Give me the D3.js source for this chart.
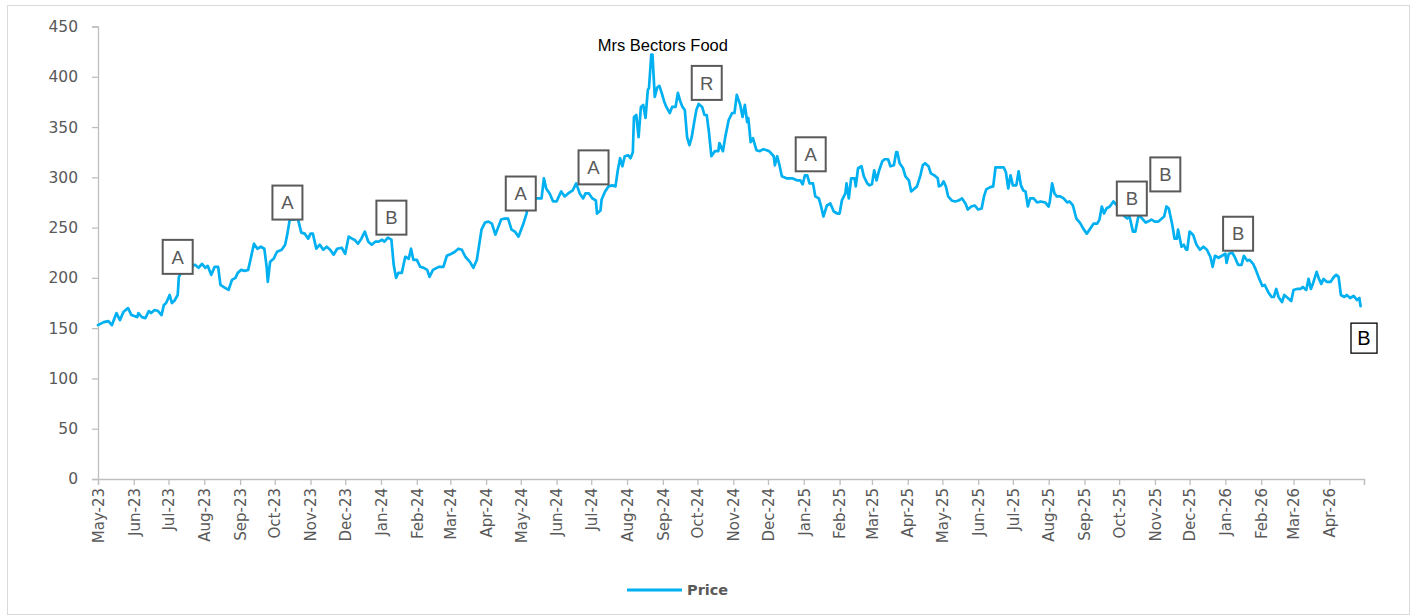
<!DOCTYPE html>
<html>
<head>
<meta charset="utf-8">
<script src="https://cdn.jsdelivr.net/npm/d3@7"></script>
<style>
  html, body { margin: 0; padding: 0; background: #ffffff; }
  svg { display: block; }
</style>
</head>
<body>
<svg id="chart" width="1413" height="615"></svg>
<script>
// ---------------- DATA ----------------
const title = "Mrs Bectors Food";
const seriesName = "Price";

const dates = [
"2023-05-01","2023-05-06","2023-05-10","2023-05-13","2023-05-17","2023-05-20","2023-05-23","2023-05-27","2023-05-30",
"2023-06-04","2023-06-05","2023-06-08","2023-06-11","2023-06-14","2023-06-16","2023-06-19","2023-06-22","2023-06-25","2023-06-27","2023-06-29",
"2023-07-02","2023-07-04","2023-07-06","2023-07-09","2023-07-10","2023-07-12","2023-07-18","2023-07-24","2023-07-27","2023-07-30",
"2023-08-02","2023-08-04","2023-08-07","2023-08-10","2023-08-13","2023-08-15","2023-08-19","2023-08-22","2023-08-25","2023-08-28","2023-08-30",
"2023-09-02","2023-09-05","2023-09-08","2023-09-10","2023-09-13","2023-09-16","2023-09-19","2023-09-22","2023-09-24","2023-09-25","2023-09-27","2023-09-30",
"2023-10-03","2023-10-07","2023-10-10","2023-10-12","2023-10-14","2023-10-18","2023-10-21","2023-10-24","2023-10-27","2023-10-30",
"2023-11-01","2023-11-03","2023-11-06","2023-11-09","2023-11-12","2023-11-15","2023-11-18","2023-11-21","2023-11-24","2023-11-28",
"2023-12-01","2023-12-04","2023-12-07","2023-12-09","2023-12-12","2023-12-15","2023-12-18","2023-12-21","2023-12-24","2023-12-27","2023-12-30",
"2024-01-02","2024-01-04","2024-01-07","2024-01-10","2024-01-12","2024-01-14","2024-01-16","2024-01-19","2024-01-22","2024-01-25","2024-01-27","2024-01-29",
"2024-02-01","2024-02-04","2024-02-07","2024-02-10","2024-02-12","2024-02-15","2024-02-20","2024-02-24","2024-02-27",
"2024-03-02","2024-03-05","2024-03-08","2024-03-11","2024-03-14","2024-03-18","2024-03-21","2024-03-24","2024-03-26","2024-03-28","2024-03-31",
"2024-04-03","2024-04-06","2024-04-09","2024-04-11","2024-04-14","2024-04-17","2024-04-20","2024-04-23","2024-04-26","2024-04-29",
"2024-05-03","2024-05-06","2024-05-08","2024-05-15","2024-05-19","2024-05-21","2024-05-23","2024-05-26","2024-05-29",
"2024-06-01","2024-06-05","2024-06-08","2024-06-11","2024-06-15","2024-06-18","2024-06-21","2024-06-24","2024-06-26","2024-06-29",
"2024-07-02","2024-07-05","2024-07-06","2024-07-09","2024-07-10","2024-07-13","2024-07-16","2024-07-19","2024-07-22","2024-07-24","2024-07-26","2024-07-28","2024-07-30",
"2024-08-02","2024-08-04","2024-08-06","2024-08-07","2024-08-09","2024-08-11","2024-08-13","2024-08-15","2024-08-17","2024-08-19","2024-08-20","2024-08-22","2024-08-23","2024-08-25","2024-08-27","2024-08-29","2024-08-31",
"2024-09-02","2024-09-04","2024-09-07","2024-09-09","2024-09-12","2024-09-14","2024-09-16","2024-09-18","2024-09-20","2024-09-22","2024-09-24","2024-09-26","2024-09-28","2024-09-30",
"2024-10-02","2024-10-05","2024-10-07","2024-10-09","2024-10-11","2024-10-13","2024-10-16","2024-10-19","2024-10-20","2024-10-23","2024-10-25","2024-10-28","2024-10-31",
"2024-11-02","2024-11-04","2024-11-07","2024-11-09","2024-11-11","2024-11-13","2024-11-14","2024-11-16","2024-11-18","2024-11-21","2024-11-24","2024-11-27","2024-11-30",
"2024-12-02","2024-12-06","2024-12-07","2024-12-09","2024-12-11","2024-12-13","2024-12-17","2024-12-22","2024-12-26","2024-12-29","2024-12-31",
"2025-01-02","2025-01-04","2025-01-06","2025-01-09","2025-01-11","2025-01-14","2025-01-16","2025-01-18","2025-01-21","2025-01-24","2025-01-27","2025-01-30",
"2025-02-01","2025-02-03","2025-02-06","2025-02-07","2025-02-09","2025-02-11","2025-02-14","2025-02-15","2025-02-17","2025-02-20","2025-02-22","2025-02-25","2025-02-27",
"2025-03-01","2025-03-03","2025-03-05","2025-03-07","2025-03-10","2025-03-12","2025-03-15","2025-03-17","2025-03-20","2025-03-22","2025-03-23","2025-03-25","2025-03-28","2025-03-30",
"2025-04-02","2025-04-04","2025-04-06","2025-04-09","2025-04-12","2025-04-14","2025-04-16","2025-04-19","2025-04-21","2025-04-24","2025-04-27","2025-04-28","2025-04-30",
"2025-05-02","2025-05-04","2025-05-06","2025-05-09","2025-05-12","2025-05-15","2025-05-18","2025-05-21","2025-05-23","2025-05-26","2025-05-29",
"2025-06-01","2025-06-04","2025-06-06","2025-06-08","2025-06-11","2025-06-14","2025-06-16","2025-06-20","2025-06-23","2025-06-25","2025-06-27","2025-06-29",
"2025-07-01","2025-07-04","2025-07-06","2025-07-08","2025-07-10","2025-07-12","2025-07-14","2025-07-16","2025-07-19","2025-07-22","2025-07-25","2025-07-29",
"2025-08-01","2025-08-02","2025-08-04","2025-08-06","2025-08-08","2025-08-11","2025-08-14","2025-08-17","2025-08-19","2025-08-22","2025-08-25","2025-08-28","2025-08-31",
"2025-09-03","2025-09-06","2025-09-09","2025-09-12","2025-09-14","2025-09-16","2025-09-18","2025-09-20","2025-09-23","2025-09-26","2025-09-29",
"2025-10-03","2025-10-08","2025-10-10","2025-10-13","2025-10-15","2025-10-18","2025-10-21","2025-10-24","2025-10-26","2025-10-29",
"2025-11-01","2025-11-04","2025-11-07","2025-11-09","2025-11-11","2025-11-13","2025-11-16","2025-11-18","2025-11-20","2025-11-21","2025-11-24","2025-11-26","2025-11-28","2025-11-29",
"2025-12-01","2025-12-04","2025-12-07","2025-12-10","2025-12-13","2025-12-16","2025-12-19","2025-12-21","2025-12-23","2025-12-26","2025-12-29",
"2026-01-01","2026-01-02","2026-01-04","2026-01-07","2026-01-09","2026-01-12","2026-01-15","2026-01-17","2026-01-20","2026-01-22","2026-01-25","2026-01-27","2026-01-30",
"2026-02-02","2026-02-04","2026-02-07","2026-02-10","2026-02-12","2026-02-14","2026-02-16","2026-02-19","2026-02-21","2026-02-24","2026-02-27",
"2026-03-01","2026-03-04","2026-03-07","2026-03-09","2026-03-12","2026-03-14","2026-03-16","2026-03-18","2026-03-21","2026-03-23","2026-03-25","2026-03-27","2026-03-30",
"2026-04-02","2026-04-05","2026-04-07","2026-04-09","2026-04-11","2026-04-14","2026-04-16","2026-04-19","2026-04-22","2026-04-25","2026-04-27","2026-04-28"
];

const prices = [
153,156,157,153,165,158,166,170,163,
161,165,161,160,167,165,168,167,163,173,175,
183,175,177,183,201,205,210,213,210,214,
210,212,203,211,211,193,190,188,198,200,205,
208,207,208,218,234,229,231,229,211,196,216,219,
226,228,233,244,258,258,259,245,244,239,
244,244,229,233,228,231,228,223,229,230,
224,241,239,238,234,239,246,236,233,236,236,
238,236,240,238,213,200,205,205,221,219,229,218,
218,211,210,208,201,208,211,211,222,
224,226,229,228,221,216,210,218,233,248,255,
256,254,243,249,258,259,259,248,246,241,
253,264,279,279,279,299,289,284,276,
276,286,281,284,287,294,284,279,284,284,
279,277,264,267,278,286,291,292,291,307,319,311,321,
322,319,325,360,362,340,370,372,359,387,389,422,422,380,389,391,384,
376,370,364,370,370,384,376,370,367,340,332,340,354,367,
373,370,362,362,344,321,326,326,334,326,340,357,364,
364,382,372,360,372,355,359,335,339,327,326,328,327,
326,321,312,321,312,301,299,299,297,297,293,
302,302,294,294,281,279,271,261,272,274,266,264,
264,277,284,294,279,299,299,291,309,311,301,294,292,
293,307,297,306,316,318,318,311,312,325,325,314,309,301,
297,286,288,291,302,312,314,311,304,302,299,291,292,
296,291,281,277,276,277,279,274,268,271,272,
268,269,281,288,290,291,310,310,310,305,289,302,
292,292,306,292,287,286,271,279,279,275,276,275,
271,276,294,284,281,281,279,275,276,272,259,255,249,
244,249,254,254,258,271,264,269,271,276,272,
264,259,261,246,246,263,259,255,256,258,
256,256,259,261,271,269,253,239,239,248,231,233,228,228,
246,243,233,228,231,228,221,211,222,220,222,
224,215,224,225,221,213,213,222,217,218,214,209,200,
192,193,186,181,181,189,181,176,183,180,177,
188,189,189,191,188,199,189,195,206,199,194,199,196,
196,201,203,201,183,181,183,180,182,178,180,172
];

const yTicks = [0, 50, 100, 150, 200, 250, 300, 350, 400, 450];
const xDomain = ["2023-05-01", "2026-05-01"];

// Annotation callouts: label, date, price level at the box edge
const annLabels = ["A", "A", "B", "A", "A", "R", "A", "B", "B", "B"];
const annDates  = ["2023-07-09","2023-10-12","2024-01-10","2024-05-01","2024-07-03","2024-10-09","2025-01-07","2025-10-12","2025-11-10","2026-01-12"];
const annValues = [204, 258, 243, 267, 293, 377, 306, 262, 286, 227];

// Final rating (box below the line end)
const finalLabel = "B";
const finalDate = "2026-05-01";
const finalValue = 155;

// title anchor (date at which the title is centred)
const titleDate = "2024-09-01";

// ---------------- CHART ----------------
const parse = d3.timeParse("%Y-%m-%d");
const data = dates.map((d, i) => ({ date: parse(d), value: prices[i] }));

const svg = d3.select("#chart");
const plot = { left: 98, right: 1364, top: 26.5, bottom: 479 };

const axisColor = "#bfbfbf";
const textColor = "#595959";
const lineColor = "#00b0f0";
const fontFamily = "'DejaVu Sans', 'Liberation Sans', Arial, sans-serif";

// outer border
svg.append("rect")
  .attr("x", 7.5).attr("y", 5.5)
  .attr("width", 1402).attr("height", 609)
  .attr("fill", "#ffffff")
  .attr("stroke", "#d9d9d9").attr("stroke-width", 1);

const x = d3.scaleTime()
  .domain(xDomain.map(parse))
  .range([plot.left, plot.right]);

const y = d3.scaleLinear()
  .domain([0, 450])
  .range([plot.bottom, plot.top]);

// Y axis
const yAxis = d3.axisLeft(y).tickValues(yTicks).tickSize(6).tickPadding(14);
const gy = svg.append("g")
  .attr("transform", `translate(${plot.left},0)`)
  .call(yAxis);
gy.select(".domain").attr("stroke", axisColor).attr("stroke-width", 1.3);
gy.selectAll(".tick line").attr("stroke", axisColor).attr("stroke-width", 1.3);
gy.selectAll(".tick text")
  .attr("fill", textColor)
  .style("font-family", fontFamily)
  .style("font-size", "15.5px");

// X axis
const monthTicks = d3.timeMonth.range(parse(xDomain[0]), d3.timeDay.offset(parse(xDomain[1]), 1));
const fmt = d3.timeFormat("%b-%y");
const lastTick = parse(xDomain[1]);
const xAxis = d3.axisBottom(x)
  .tickValues(monthTicks)
  .tickSize(6)
  .tickFormat(d => (+d === +lastTick ? "" : fmt(d)));
const gx = svg.append("g")
  .attr("transform", `translate(0,${plot.bottom})`)
  .call(xAxis);
gx.select(".domain").attr("stroke", axisColor).attr("stroke-width", 1.3);
gx.selectAll(".tick line").attr("stroke", axisColor).attr("stroke-width", 1.3);
gx.selectAll(".tick text")
  .attr("fill", textColor)
  .style("font-family", fontFamily)
  .style("font-size", "15px")
  .attr("text-anchor", "end")
  .attr("transform", "rotate(-90)")
  .attr("x", -9)
  .attr("y", 0)
  .attr("dy", "0.35em");

// Price line
const line = d3.line()
  .x(d => x(d.date))
  .y(d => y(d.value));

svg.append("path")
  .datum(data)
  .attr("fill", "none")
  .attr("stroke", lineColor)
  .attr("stroke-width", 2.7)
  .attr("stroke-linejoin", "round")
  .attr("stroke-linecap", "round")
  .attr("d", line);

// Title
svg.append("text")
  .attr("x", x(parse(titleDate)))
  .attr("y", 51)
  .attr("text-anchor", "middle")
  .attr("fill", "#000000")
  .style("font-family", "'Liberation Sans', Arial, sans-serif")
  .style("font-size", "16.5px")
  .text(title);

// Annotation boxes
const boxW = 30, boxH = 34;
annLabels.forEach((lab, i) => {
  const cx = x(parse(annDates[i]));
  const by = y(annValues[i]);
  const g = svg.append("g");
  g.append("rect")
    .attr("x", cx - boxW / 2)
    .attr("y", by - boxH)
    .attr("width", boxW)
    .attr("height", boxH)
    .attr("fill", "#ffffff")
    .attr("stroke", "#595959")
    .attr("stroke-width", 2);
  g.append("text")
    .attr("x", cx)
    .attr("y", by - boxH / 2)
    .attr("dy", "0.36em")
    .attr("text-anchor", "middle")
    .attr("fill", "#595959")
    .style("font-family", "'Liberation Sans', Arial, sans-serif")
    .style("font-size", "18.5px")
    .text(lab);
});

// Final box
{
  const cx = x(parse(finalDate));
  const ty = y(finalValue);
  const fw = 26, fh = 30;
  svg.append("rect")
    .attr("x", cx - fw / 2)
    .attr("y", ty)
    .attr("width", fw)
    .attr("height", fh)
    .attr("fill", "#ffffff")
    .attr("stroke", "#000000")
    .attr("stroke-width", 1.3);
  svg.append("text")
    .attr("x", cx)
    .attr("y", ty + fh / 2)
    .attr("dy", "0.36em")
    .attr("text-anchor", "middle")
    .attr("fill", "#000000")
    .style("font-family", "'Liberation Sans', Arial, sans-serif")
    .style("font-size", "20px")
    .text(finalLabel);
}

// Legend
const lg = svg.append("g").attr("transform", "translate(627,590)");
lg.append("line")
  .attr("x1", 0).attr("x2", 55)
  .attr("y1", 0).attr("y2", 0)
  .attr("stroke", lineColor)
  .attr("stroke-width", 3);
lg.append("text")
  .attr("x", 60)
  .attr("y", 0)
  .attr("dy", "0.35em")
  .attr("fill", textColor)
  .style("font-family", fontFamily)
  .style("font-weight", "bold")
  .style("font-size", "14.5px")
  .text(seriesName);
</script>
</body>
</html>
